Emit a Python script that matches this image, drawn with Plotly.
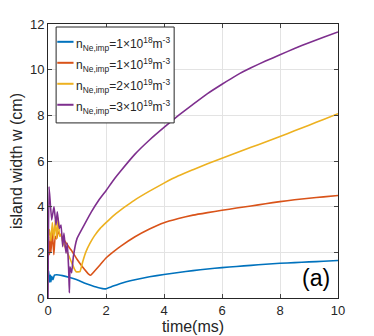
import plotly.graph_objects as go

# blue: n = 1e18
t_1e18 = [0, 0.02, 0.05, 0.08, 0.1, 0.13, 0.17, 0.22, 0.3, 0.5, 0.75, 1.0, 1.25, 1.5, 1.75, 1.97, 2.2, 2.5, 3, 3.5, 4, 4.5, 5, 5.5, 6, 6.5, 7, 7.5, 8, 8.5, 9, 9.5, 10]
w_1e18 = [0.9, 1.2, 0.7, 1.0, 0.7, 0.95, 0.8, 1.0, 1.02, 0.98, 0.9, 0.8, 0.66, 0.55, 0.45, 0.4, 0.5, 0.64, 0.8, 0.93, 1.03, 1.12, 1.2, 1.27, 1.33, 1.38, 1.43, 1.48, 1.52, 1.55, 1.58, 1.61, 1.64]

# orange: n = 1e19
t_1e19 = [0, 0.02, 0.05, 0.08, 0.1, 0.15, 0.2, 0.25, 0.3, 0.35, 0.4, 0.5, 0.6, 0.8, 1.0, 1.2, 1.4, 1.47, 1.6, 1.8, 2.0, 2.25, 2.5, 3, 3.5, 4, 4.5, 5, 5.5, 6, 6.5, 7, 7.5, 8, 8.5, 9, 9.5, 10]
w_1e19 = [2.0, 2.5, 1.9, 2.7, 2.0, 2.9, 1.9, 2.7, 2.6, 2.9, 2.8, 2.65, 2.45, 2.1, 1.7, 1.35, 1.05, 1.0, 1.17, 1.46, 1.75, 2.02, 2.26, 2.68, 3.02, 3.3, 3.48, 3.63, 3.74, 3.84, 3.94, 4.03, 4.13, 4.22, 4.3, 4.37, 4.43, 4.49]

# yellow: n = 2e19
t_2e19 = [0, 0.05, 0.1, 0.15, 0.2, 0.25, 0.3, 0.35, 0.4, 0.45, 0.5, 0.6, 0.7, 0.8, 0.9, 0.97, 1.1, 1.2, 1.3, 1.45, 1.6, 1.8, 2.0, 2.25, 2.5, 2.75, 3, 3.5, 4, 4.5, 5, 5.5, 6, 6.5, 7, 7.5, 8, 8.5, 9, 9.5, 10]
w_2e19 = [2.6, 3.0, 2.5, 3.3, 2.6, 3.4, 2.6, 3.5, 2.7, 2.8, 2.5, 2.2, 1.9, 1.6, 1.3, 1.15, 1.15, 1.6, 2.0, 2.4, 2.72, 3.05, 3.3, 3.6, 3.85, 4.08, 4.3, 4.68, 5.03, 5.35, 5.62, 5.88, 6.12, 6.36, 6.6, 6.83, 7.07, 7.32, 7.57, 7.82, 8.07]

# purple: n = 3e19
t_3e19 = [0, 0.035, 0.126, 0.207, 0.276, 0.32, 0.39, 0.45, 0.506, 0.55, 0.62, 0.667, 0.713, 0.736, 0.76, 0.816, 0.874, 1.0, 1.25, 1.5, 1.75, 2.0, 2.25, 2.5, 3, 3.5, 4, 4.5, 5, 5.5, 6, 6.5, 7, 7.5, 8, 8.5, 9, 9.5, 10]
w_3e19 = [0, 4.88, 3.42, 4.0, 3.2, 3.78, 3.05, 3.2, 2.25, 2.84, 1.96, 2.4, 1.23, 0.23, 1.37, 1.1, 1.81, 2.6, 3.2, 3.78, 4.28, 4.7, 5.15, 5.55, 6.3, 6.92, 7.47, 8.0, 8.48, 8.95, 9.36, 9.75, 10.08, 10.38, 10.65, 10.93, 11.18, 11.42, 11.65]

names = ["n<sub>Ne,imp</sub>=1×10<sup>18</sup>m<sup>-3</sup>",
         "n<sub>Ne,imp</sub>=1×10<sup>19</sup>m<sup>-3</sup>",
         "n<sub>Ne,imp</sub>=2×10<sup>19</sup>m<sup>-3</sup>",
         "n<sub>Ne,imp</sub>=3×10<sup>19</sup>m<sup>-3</sup>"]
colors = ["#0072BD", "#D95319", "#EDB120", "#7E2F8E"]

fig = go.Figure()
for t, w, nm, c in zip([t_1e18, t_1e19, t_2e19, t_3e19],
                       [w_1e18, w_1e19, w_2e19, w_3e19], names, colors):
    fig.add_trace(go.Scatter(x=t, y=w, mode='lines', name=nm, showlegend=False,
                             line=dict(color=c, width=1.6, shape='spline', smoothing=0.3)))

# legend drawn by hand (matlab-style short line samples)
fig.add_shape(type='rect', xref='paper', yref='paper', x0=0.028, x1=0.435, y0=0.639, y1=0.989,
              line=dict(color='#262626', width=1), fillcolor='white', layer='above')
anns = []
for i, (nm, c) in enumerate(zip(names, colors)):
    yy = 0.935 - i * 0.0766
    fig.add_shape(type='line', xref='paper', yref='paper', x0=0.032, x1=0.088, y0=yy, y1=yy,
                  line=dict(color=c, width=2), layer='above')
    anns.append(dict(text=nm, x=0.089, y=yy, xref='paper', yref='paper', xanchor='left',
                     yanchor='middle', yshift=-2, showarrow=False,
                     font=dict(size=12, color='#262626')))
anns.append(dict(text="(a)", x=0.98, y=0.02, xref='paper', yref='paper',
                 xanchor='right', yanchor='bottom', showarrow=False,
                 font=dict(size=23, color='black')))

# page body adds an 8px margin, so the figure is 8px smaller and margins shifted
fig.update_layout(
    width=366, height=328,
    margin=dict(l=40, r=36, t=16, b=38),
    paper_bgcolor='white', plot_bgcolor='white',
    font=dict(family="Liberation Sans, Arial", size=13, color='#262626'),
    showlegend=False,
    annotations=anns,
)
fig.update_xaxes(range=[0, 10], dtick=2, showgrid=True, gridcolor='#e3e3e3',
                 showline=True, linecolor='#262626', mirror='ticks', ticks='inside',
                 ticklen=4, zeroline=False, automargin=False,
                 title=dict(text="time(ms)", standoff=0))
fig.update_yaxes(range=[0, 12], dtick=2, showgrid=True, gridcolor='#e3e3e3',
                 showline=True, linecolor='#262626', mirror='ticks', ticks='inside',
                 ticklen=4, zeroline=False, automargin=False,
                 title=dict(text="island width w (cm)", standoff=3))

fig.write_html("out.html")
